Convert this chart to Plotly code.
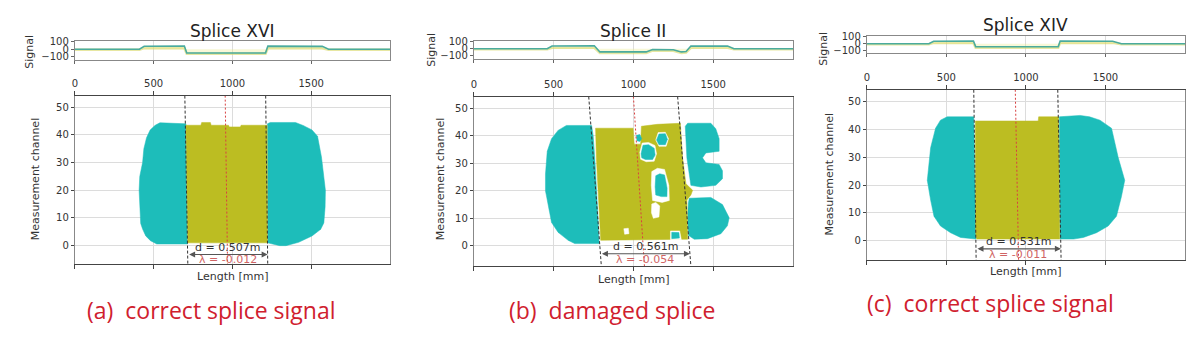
import plotly.graph_objects as go

# ---------------- data ----------------
TITLES = ["Splice XVI", "Splice II", "Splice XIV"]
CAPTIONS = ["(a)  correct splice signal", "(b)  damaged splice", "(c)  correct splice signal"]
D_LABELS = ["d = 0.507m", "d = 0.561m", "d = 0.531m"]
L_LABELS = ["\u03bb = -0.012", "\u03bb = -0.054", "\u03bb = -0.011"]
X_TICKS = [0, 500, 1000, 1500]
CH_TICKS = [0, 10, 20, 30, 40, 50]
SIG_TICKS = [-100, 0, 100]
SIG_TICKTEXT = ["\u2212100", "0", "100"]

# signal traces (length mm, signal)
SIG_A_X = [0, 410, 440, 695, 710, 1210, 1225, 1570, 1610, 2000]
SIG_A_TEAL = [0, 0, 40, 42, -50, -52, 42, 38, 0, 0]
SIG_A_YEL = [-6, -6, 14, 14, -62, -62, 14, 14, -6, -6]
SIG_B_X = [0, 460, 490, 755, 790, 1080, 1120, 1250, 1300, 1330, 1360, 1590, 1630, 2000]
SIG_B_TEAL = [0, 0, 40, 42, -45, -45, -10, -15, -45, -40, 40, 38, 0, 0]
SIG_B_YEL = [-6, -6, 14, 14, -60, -60, -25, -30, -60, -55, 14, 14, -6, -6]
SIG_C_X = [0, 390, 420, 670, 684, 1203, 1215, 1545, 1600, 2000]
SIG_C_TEAL = [0, 0, 35, 38, -40, -42, 38, 35, 0, 0]
SIG_C_YEL = [-6, -6, 12, 12, -55, -55, 12, 12, -6, -6]

# blob outlines (length mm, channel)
A_CYAN_L = [(705, 44), (540, 44.4), (510, 43.5), (478, 41.8), (455, 39), (438, 35), (430, 30),
            (412, 25), (408, 20), (415, 14), (418, 8), (430, 6), (450, 3.5), (480, 1.8),
            (520, 0.6), (715, 0.6)]
A_OLIVE = [(705, 43.5), (800, 43.5), (805, 44.5), (860, 44.5), (865, 43.5), (975, 43.5),
           (980, 42.9), (1050, 42.9), (1055, 43.5), (1220, 43.5), (1222, 1), (717, 1)]
A_CYAN_R = [(1222, 44), (1240, 44.5), (1400, 44.5), (1445, 43.5), (1505, 41.8), (1540, 39.5),
            (1565, 32), (1590, 20), (1588, 14), (1580, 8.2), (1560, 5.9), (1505, 3.5),
            (1420, 1.2), (1340, 0), (1300, 0), (1250, 0.8), (1224, 1)]

B_CYAN_L = [(738, 43.8), (580, 43.8), (528, 42), (487, 39), (460, 34.4), (449, 26), (449, 20),
            (466, 14.4), (487, 8.5), (528, 4.9), (591, 2), (632, 0.8), (785, 0.8), (778, 10),
            (770, 20), (760, 30), (748, 40)]
B_OLIVE = [(763, 42.8), (998, 42.8), (1005, 37), (1045, 37), (1050, 43.5), (1150, 44.2),
           (1294, 44.6), (1308, 32), (1329, 22.6), (1371, 20.2), (1360, 18.5), (1335, 16.7),
           (1340, 3.2), (1340, 2.4), (795, 2), (778, 20), (768, 32)]
B_CYAN_RU = [(1340, 44.6), (1485, 44.6), (1516, 42.6), (1537, 39), (1537, 34.4), (1454, 33.8),
             (1433, 32), (1454, 30.2), (1537, 29.6), (1558, 27.3), (1558, 24.4), (1516, 22),
             (1423, 21.4), (1360, 22), (1335, 32), (1325, 43.5)]
B_CYAN_RL = [(1350, 17.3), (1485, 17.6), (1558, 15), (1600, 10.2), (1589, 7.3), (1548, 4.4),
             (1464, 2.6), (1381, 2.4), (1344, 3.8), (1340, 10.8), (1344, 15.5)]
B_HOLES = [
    [(1040, 34), (1055, 37.4), (1095, 37.6), (1135, 36.5), (1145, 33.5), (1130, 30.8),
     (1080, 30.6), (1045, 31.5)],
    [(1140, 38.5), (1155, 41.2), (1200, 41.3), (1220, 39), (1205, 36.2), (1160, 36.2)],
    [(1115, 27), (1150, 28.2), (1195, 27.8), (1222, 22), (1225, 16.5), (1180, 15.8),
     (1120, 16.5), (1112, 22)],
    [(1115, 15.2), (1140, 15.8), (1165, 14.5), (1160, 10.5), (1125, 10), (1113, 12)],
    [(940, 6.2), (968, 6.4), (972, 4.4), (945, 4.2)],
    [(1232, 5.4), (1290, 5.4), (1300, 2.2), (1232, 2.2)],
]
B_ISLANDS = [
    [(1048, 33.5), (1060, 36.6), (1095, 36.8), (1130, 35.5), (1136, 33), (1120, 31.4),
     (1075, 31.4), (1052, 32)],
    [(1145, 38.5), (1160, 40.7), (1200, 40.8), (1213, 38.8), (1200, 36.8), (1160, 36.8)],
    [(1140, 25.5), (1165, 26.2), (1195, 25.8), (1211, 21), (1210, 17.9), (1175, 17.9),
     (1140, 18.5), (1136, 21.5)],
    [(1019, 40.2), (1040, 40.5), (1052, 39), (1040, 38), (1022, 38.2)],
    [(1240, 4.9), (1285, 4.8), (1288, 2.8), (1240, 2.6)],
]

C_CYAN_L = [(672, 44.5), (505, 44.5), (463, 43.3), (432, 40.4), (401, 33.4), (380, 21.7),
            (401, 14.6), (422, 8.8), (463, 5.3), (526, 2.9), (589, 1.2), (686, 0.6)]
C_OLIVE = [(682, 43), (1077, 43), (1080, 44.5), (1205, 44.5), (1212, 0.6), (690, 0.6), (684, 2.9)]
C_CYAN_R = [(1210, 44.5), (1340, 45), (1400, 44.5), (1465, 43.3), (1538, 40.4), (1580, 29.9),
            (1621, 21.7), (1600, 15.8), (1569, 8.8), (1517, 5.3), (1444, 2.9), (1361, 1.2),
            (1300, 0.6), (1214, 0.6)]

# tilted guide lines: x at top of axis, x at bottom of axis
A_LINES = {"left": (698, 717), "mid": (954, 969), "right": (1211, 1224)}
B_LINES = {"left": (720, 799), "mid": (1000, 1069), "right": (1277, 1360)}
C_LINES = {"left": (672, 687), "mid": (933, 954), "right": (1200, 1221)}

# ---------------- layout geometry (pixels) ----------------
W, H = 1200, 351
CYAN = "#1dbdba"
OLIVE = "#bcbd22"


def dx(p):
    return p / W


def dy(p):
    return 1 - p / H


panels = [
    dict(x0=72, x1=388, s0=37, s1=56, h0=93, h1=266, yr=[-6.7, 54.2], srange=[-140, 110],
         title_y=27, len_y=279, sig_lab=(27, 48), mc_lab=(33, 178), cap=(209, 313),
         sx=SIG_A_X, st=SIG_A_TEAL, sy=SIG_A_YEL, cl=A_CYAN_L, ol=A_OLIVE, cr=[A_CYAN_R],
         holes=[], isl=[], lines=A_LINES, dlab=(-0.6, -3.2, -5.1)),
    dict(x0=472, x1=792, s0=37, s1=55, h0=94, h1=268, yr=[-7.4, 54.3], srange=[-140, 110],
         title_y=27, len_y=282, sig_lab=(430, 46), mc_lab=(439, 178), cap=(611, 313),
         sx=SIG_B_X, st=SIG_B_TEAL, sy=SIG_B_YEL, cl=B_CYAN_L, ol=B_OLIVE,
         cr=[B_CYAN_RU, B_CYAN_RL], holes=B_HOLES, isl=B_ISLANDS, lines=B_LINES,
         dlab=(-0.4, -2.9, -5.1)),
    dict(x0=866, x1=1185, s0=32, s1=49, h0=87, h1=262, yr=[-7.0, 54.2], srange=[-125, 105],
         title_y=21, len_y=274, sig_lab=(823, 45), mc_lab=(829, 173), cap=(990, 306),
         sx=SIG_C_X, st=SIG_C_TEAL, sy=SIG_C_YEL, cl=C_CYAN_L, ol=C_OLIVE, cr=[C_CYAN_R],
         holes=[], isl=[], lines=C_LINES, dlab=(-0.4, -2.9, -4.9)),
]

FONT = "DejaVu Sans"
fig = go.Figure()
layout = dict(width=W, height=H, margin=dict(l=0, r=0, t=0, b=0),
              paper_bgcolor="white", plot_bgcolor="white", showlegend=False,
              font=dict(family=FONT, size=10, color="#333"))
annotations = []


def poly(pts, color, xa, ya):
    xs = [p[0] for p in pts] + [pts[0][0]]
    ys = [p[1] for p in pts] + [pts[0][1]]
    fig.add_trace(go.Scatter(x=xs, y=ys, mode="lines", fill="toself", fillcolor=color,
                             line=dict(width=0.5, color=color), xaxis=xa, yaxis=ya,
                             hoverinfo="skip"))


def label(x, y, text, size, color, family=FONT, angle=0):
    annotations.append(dict(x=dx(x), y=dy(y), xref="paper", yref="paper", text=text,
                            xanchor="center", yanchor="middle", textangle=angle,
                            showarrow=False, font=dict(size=size, color=color, family=family)))


for i, p in enumerate(panels):
    ns = 2 * i + 1
    nh = 2 * i + 2
    xs_name, ys_name = f"x{ns}", f"y{ns}"
    xh_name, yh_name = f"x{nh}", f"y{nh}"
    xk = lambda n: "xaxis" if n == 1 else f"xaxis{n}"
    yk = lambda n: "yaxis" if n == 1 else f"yaxis{n}"

    # signal axes
    layout[xk(ns)] = dict(domain=[dx(p["x0"]), dx(p["x1"])], range=[0, 2000], anchor=ys_name,
                          showticklabels=False, ticks="outside", ticklen=3, tickcolor="#666",
                          tickvals=X_TICKS, showgrid=True, gridcolor="#dcdcdc", showline=True,
                          linecolor="#888", mirror=True, zeroline=False)
    layout[yk(ns)] = dict(domain=[dy(p["s1"]), dy(p["s0"])], range=p["srange"], anchor=xs_name,
                          tickvals=SIG_TICKS, ticktext=SIG_TICKTEXT, ticks="outside", ticklen=3,
                          tickcolor="#666", tickfont=dict(size=10, color="#333"),
                          showgrid=False, showline=True, linecolor="#888", mirror=True,
                          zeroline=False)
    # heat axes
    layout[xk(nh)] = dict(domain=[dx(p["x0"]), dx(p["x1"])], range=[0, 2000], anchor=yh_name,
                          side="top", tickvals=X_TICKS, ticks="outside", ticklen=4,
                          tickcolor="#444", tickfont=dict(size=10, color="#333"),
                          showgrid=True, gridcolor="#dcdcdc", showline=True,
                          linecolor="#444", mirror="ticks", zeroline=False)
    layout[yk(nh)] = dict(domain=[dy(p["h1"]), dy(p["h0"])], range=p["yr"], anchor=xh_name,
                          tickvals=CH_TICKS, ticks="outside", ticklen=3, tickcolor="#444",
                          tickfont=dict(size=10, color="#333"), showgrid=True,
                          gridcolor="#dcdcdc", showline=True, linecolor="#888", mirror=True,
                          zeroline=False)

    # signal lines
    fig.add_trace(go.Scatter(x=p["sx"], y=p["sy"], mode="lines", fill="tozeroy",
                             fillcolor="rgba(235,235,140,0.35)",
                             line=dict(color="rgba(215,215,100,0.6)", width=2.5),
                             xaxis=xs_name, yaxis=ys_name, hoverinfo="skip"))
    fig.add_trace(go.Scatter(x=p["sx"], y=p["st"], mode="lines",
                             line=dict(color="#4aab9e", width=1.6),
                             xaxis=xs_name, yaxis=ys_name, hoverinfo="skip"))

    # blobs
    poly(p["cl"], CYAN, xh_name, yh_name)
    for r in p["cr"]:
        poly(r, CYAN, xh_name, yh_name)
    poly(p["ol"], OLIVE, xh_name, yh_name)
    for hpts in p["holes"]:
        poly(hpts, "white", xh_name, yh_name)
    for ipts in p["isl"]:
        poly(ipts, CYAN, xh_name, yh_name)

    # guide lines
    yt, yb = p["yr"][1], p["yr"][0]
    for key in ["left", "right"]:
        xt, xb = p["lines"][key]
        fig.add_trace(go.Scatter(x=[xt, xb], y=[yt, yb], mode="lines",
                                 line=dict(color="#333", width=1, dash="3px,2px"),
                                 xaxis=xh_name, yaxis=yh_name, hoverinfo="skip"))
    xt, xb = p["lines"]["mid"]
    fig.add_trace(go.Scatter(x=[xt, xb], y=[yt, yb], mode="lines",
                             line=dict(color="#d84040", width=1, dash="2px,2px"),
                             xaxis=xh_name, yaxis=yh_name, hoverinfo="skip"))

    # d / lambda labels and arrow
    lx = p["lines"]["left"]
    rx = p["lines"]["right"]
    frac = (p["dlab"][1] - yb) / (yt - yb)
    xl = lx[1] + (lx[0] - lx[1]) * frac
    xr = rx[1] + (rx[0] - rx[1]) * frac
    xm = (xl + xr) / 2
    annotations.append(dict(x=xr, y=p["dlab"][1], ax=xl, ay=p["dlab"][1], xref=xh_name,
                            yref=yh_name, axref=xh_name, ayref=yh_name, text="",
                            showarrow=True, arrowhead=2, arrowside="end+start", arrowsize=1,
                            arrowwidth=1.2, arrowcolor="#555"))
    annotations.append(dict(x=xm, y=p["dlab"][0], xref=xh_name, yref=yh_name,
                            xanchor="center", yanchor="middle",
                            text=D_LABELS[i], showarrow=False,
                            font=dict(size=11, color="#333", family=FONT)))
    annotations.append(dict(x=xm, y=p["dlab"][2], xref=xh_name, yref=yh_name,
                            xanchor="center", yanchor="middle",
                            text=L_LABELS[i], showarrow=False,
                            font=dict(size=11, color="#d06464", family=FONT)))

    # titles and axis labels
    cx = (p["x0"] + p["x1"]) / 2
    label(cx, p["title_y"], TITLES[i], 17, "#222")
    label(cx, p["len_y"], "Length [mm]", 11, "#333")
    label(p["sig_lab"][0], p["sig_lab"][1], "Signal", 11, "#333", angle=-90)
    label(p["mc_lab"][0], p["mc_lab"][1], "Measurement channel", 11, "#333", angle=-90)
    label(p["cap"][0], p["cap"][1], CAPTIONS[i], 23, "#d0202e", family="Open Sans")

layout["annotations"] = annotations
fig.update_layout(**layout)
fig.write_html("out.html")
